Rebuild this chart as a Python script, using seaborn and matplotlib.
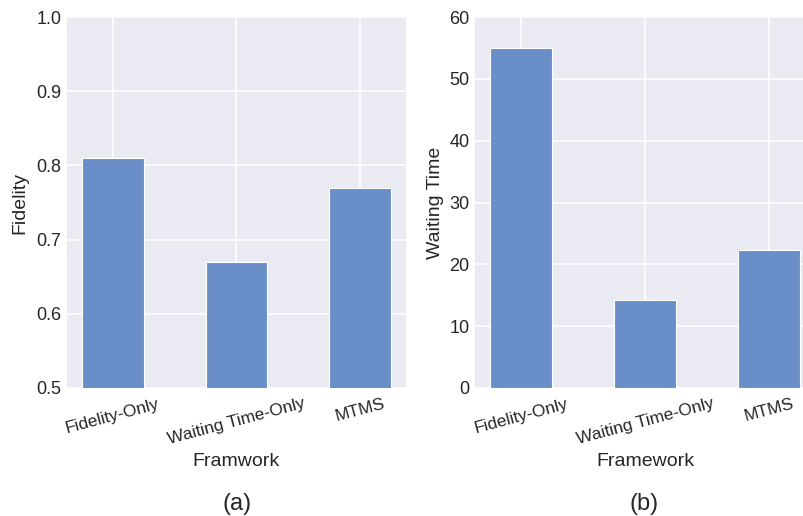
import matplotlib
matplotlib.use("Agg")
import matplotlib.pyplot as plt
import seaborn as sns
import pandas as pd

frameworks = ["Fidelity-Only", "Waiting Time-Only", "MTMS"]
fidelity = [0.81, 0.67, 0.77]
waiting_time = [55.0, 14.2, 22.3]

sns.set_theme(style="darkgrid")
plt.rcParams['font.family'] = ['Liberation Sans', 'DejaVu Sans']

W, H = 804, 516
fig = plt.figure(figsize=(W / 100, H / 100), dpi=100)
fig.patch.set_facecolor("white")

bar_color = "#6A8EC8"
top, bottom = 17, 388

def add_ax(left, right):
    return fig.add_axes([left / W, 1 - bottom / H, (right - left) / W, (bottom - top) / H])

ax1 = add_ax(67, 406)
ax2 = add_ax(475, 815)

df1 = pd.DataFrame({"Framework": frameworks, "Fidelity": fidelity})
df2 = pd.DataFrame({"Framework": frameworks, "Waiting Time": waiting_time})

sns.barplot(data=df1, x="Framework", y="Fidelity", ax=ax1, color=bar_color,
            saturation=1, width=0.5, edgecolor="white", linewidth=0.8)
sns.barplot(data=df2, x="Framework", y="Waiting Time", ax=ax2, color=bar_color,
            saturation=1, width=0.5, edgecolor="white", linewidth=0.8)

ax1.set_ylim(0.5, 1.0)
ax1.set_yticks([0.5, 0.6, 0.7, 0.8, 0.9, 1.0])
ax2.set_ylim(0, 60)
ax2.set_yticks([0, 10, 20, 30, 40, 50, 60])

for ax, xl, yl, ypad in [(ax1, "Framwork", "Fidelity", 5.5), (ax2, "Framework", "Waiting Time", 4)]:
    ax.set_xlim(-0.37, 2.37)
    ax.set_facecolor("#EAEAF2")
    ax.grid(True, axis="both", color="white", linewidth=1.2)
    ax.set_axisbelow(True)
    ax.tick_params(axis="y", labelsize=13, colors="#262626", length=0, pad=4)
    ax.tick_params(axis="x", labelsize=12.5, colors="#262626", pad=0)
    plt.setp(ax.get_xticklabels(), rotation=15, ha="center")
    ax.set_xlabel(xl, fontsize=14, color="#262626", labelpad=4)
    ax.set_ylabel(yl, fontsize=14, color="#262626", labelpad=ypad)
    for s in ax.spines.values():
        s.set_visible(False)

fig.text(237 / W, 1 - 504 / H, "(a)", fontsize=17, ha="center", va="center", color="#262626")
fig.text(644 / W, 1 - 504 / H, "(b)", fontsize=17, ha="center", va="center", color="#262626")

fig.savefig("out.png", dpi=100, facecolor="white")
